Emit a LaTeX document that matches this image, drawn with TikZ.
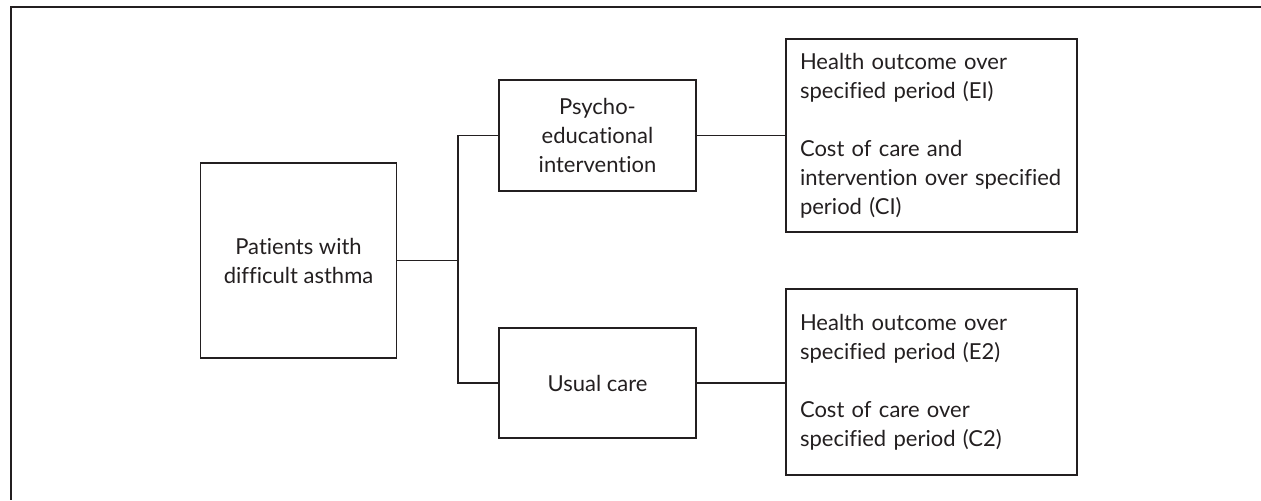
\documentclass[tikz,border=0pt]{standalone}
\usepackage{fontspec}
\setmainfont{Lato}[Ligatures=NoCommon]
\definecolor{inkgrey}{RGB}{35, 31, 32}
\usetikzlibrary{positioning}

\begin{document}
\begin{tikzpicture}[x=0.5pt,y=-0.5pt,
    every node/.style={font=\fontsize{11}{14.5}\selectfont,text=inkgrey},
    box/.style={draw=inkgrey,line width=0.65pt,rectangle,inner sep=0pt,align=center},
    result/.style={draw=inkgrey,line width=0.65pt,rectangle,inner xsep=7pt,inner ysep=0pt,
        text width=131.5pt,minimum width=144.5pt,align=left},
    link/.style={draw=inkgrey,line width=0.65pt}]
    \useasboundingbox (0,0) rectangle (1261,500);
    % open frame, top and left only
    \draw[line width=1pt,inkgrey] (1261,7) -- (11,7) -- (11,500);

    \node[box,minimum width=98pt,minimum height=97.5pt] (patients) at (298.5,260.5)
        {Patients with\\difficult asthma};
    \node[box,minimum width=98.5pt,minimum height=55.5pt] (psycho) at (597.5,135.5)
        {Psycho-\\educational\\intervention};
    \node[box,minimum width=98.5pt,minimum height=55pt] (usual) at (597.5,383)
        {Usual care};
    \node[result,minimum height=96.5pt] (armone) at (931.5,135.5)
        {Health outcome over\\specified period (EI)\\[14.5pt]Cost of care and\\intervention over specified\\period (CI)};
    \node[result,minimum height=93pt] (armtwo) at (931.5,382)
        {Health outcome over\\specified period (E2)\\[14.5pt]Cost of care over\\specified period (C2)};

    \coordinate (split) at (458,260.5);
    \draw[link] (patients.east) -- (split);
    \draw[link] (psycho.west) -| (split) |- (usual.west);
    \draw[link] (psycho.east) -- (armone.west);
    \draw[link] (usual.east) -- (usual.east -| armtwo.west);
\end{tikzpicture}
\end{document}
